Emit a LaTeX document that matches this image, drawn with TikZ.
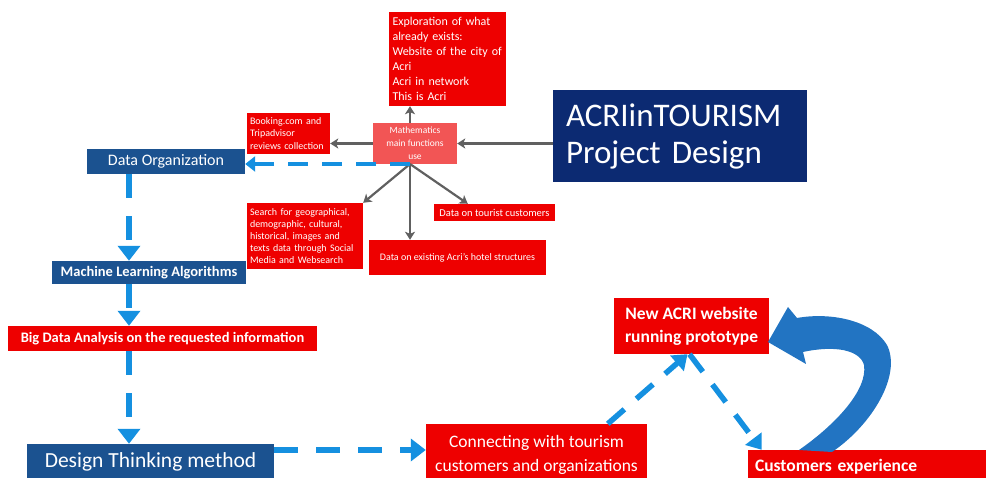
\documentclass[tikz,border=0pt]{standalone}
\usepackage{fontspec}
\setmainfont{Carlito}
\usetikzlibrary{arrows.meta,calc}

\definecolor{boxred}{HTML}{EE0000}
\definecolor{mathred}{HTML}{F25555}
\definecolor{navy}{HTML}{0C2A72}
\definecolor{midblue}{HTML}{1B5290}
\definecolor{flowblue}{HTML}{1590E0}
\definecolor{loopblue}{HTML}{2274C2}
\definecolor{linkgray}{HTML}{606060}

\begin{document}
\begin{tikzpicture}[x=1pt,y=-1pt,
  box/.style={inner sep=0pt,text=white,align=center},
  redbox/.style={box,fill=boxred},
  bluebox/.style={box,fill=midblue},
  graylink/.style={draw=linkgray,line width=2.2pt,-{Stealth[width=10pt,length=8pt,inset=2pt]}},
  flow/.style={draw=flowblue,line width=6pt,dash pattern=on 24pt off 18pt,-{Triangle[width=22pt,length=15pt]}},
  flowthin/.style={draw=flowblue,line width=4.5pt,dash pattern=on 20pt off 14pt,-{Triangle[width=15pt,length=10pt]}},
  flowdiag/.style={draw=flowblue,line width=5.5pt,dash pattern=on 22pt off 16pt,-{Triangle[width=20pt,length=14pt]}},
]
\useasboundingbox (0,0) rectangle (986,478);

% title block
\node[box,fill=navy,minimum width=254pt,minimum height=92pt,text width=228pt,align=left,
      font=\fontsize{33}{37}\selectfont] (acri) at (680,136) {ACRIinTOURISM\\Project Design};

% central hub and its satellites
\node[box,fill=mathred,minimum width=84pt,minimum height=41pt,font=\fontsize{9.5}{13}\selectfont]
  (math) at (415,143.5) {Mathematics\\main functions\\use};
\node[redbox,minimum width=117pt,minimum height=94pt,text width=110pt,align=left,font=\fontsize{12}{15}\selectfont]
  (explore) at (447.5,59) {Exploration of what\\already exists:\\Website of the city of\\Acri\\Acri in network\\This is Acri};
\node[redbox,minimum width=83pt,minimum height=41pt,text width=77pt,align=left,font=\fontsize{10}{12.5}\selectfont]
  (booking) at (288.5,133.5) {Booking.com and\\Tripadvisor\\reviews collection};
\node[redbox,minimum width=116pt,minimum height=66pt,text width=110pt,align=left,font=\fontsize{10}{12}\selectfont]
  (search) at (305,236) {Search for geographical,\\demographic, cultural,\\historical, images and\\texts data through Social\\Media and Websearch};
\node[redbox,minimum width=121pt,minimum height=17pt,font=\fontsize{10.5}{12}\selectfont]
  (tourist) at (494.5,212.5) {Data on tourist customers};
\node[redbox,minimum width=177pt,minimum height=35pt,font=\fontsize{10}{12}\selectfont]
  (hotel) at (457.5,257.5) {Data on existing Acri's hotel structures};

% left column
\node[bluebox,minimum width=158pt,minimum height=25pt,font=\fontsize{16}{18}\selectfont]
  (dataorg) at (166,161.5) {Data Organization};
\node[bluebox,minimum width=194pt,minimum height=23pt,font=\bfseries\fontsize{14.5}{16}\selectfont]
  (ml) at (149,272.5) {Machine Learning Algorithms};
\node[redbox,minimum width=309pt,minimum height=25pt,font=\bfseries\fontsize{14.5}{16}\selectfont]
  (bigdata) at (162.5,338.5) {Big Data Analysis on the requested information};
\node[bluebox,minimum width=247pt,minimum height=36pt,font=\fontsize{21.5}{24}\selectfont]
  (design) at (150.5,462) {Design Thinking method};

% bottom row
\node[redbox,minimum width=221pt,minimum height=62pt,font=\fontsize{17.5}{24}\selectfont]
  (connect) at (536.5,455) {Connecting with tourism\\customers and organizations};
\node[redbox,minimum width=155pt,minimum height=56pt,font=\bfseries\fontsize{17.5}{23}\selectfont]
  (newacri) at (691.5,326) {New ACRI website\\running prototype};
\node[redbox,minimum width=242pt,minimum height=34pt,text width=228pt,align=left,font=\bfseries\fontsize{17.5}{20}\selectfont]
  (custexp) at (869,467) {Customers experience};

% gray links from the hub
\coordinate (hub) at (410,164);
\draw[graylink] (acri.west |- math.east) -- (math.east);
\draw[graylink] (math.west) -- (math.west -| booking.east);
\draw[graylink] (hub |- math.north) -- (hub |- explore.south);
\draw[graylink] (hub) -- (search.north east);
\draw[graylink] (hub) -- (hub |- hotel.north);
\draw[graylink] (hub) -- ($(tourist.north west)+(34,0)$);

% blue process flow
\draw[flowthin] (hub) -- (hub -| dataorg.east);
\coordinate (col) at (129,0);
\draw[flow] (dataorg.south -| col) -- (ml.north -| col);
\draw[flow] (ml.south -| col) -- (bigdata.north -| col);
\draw[flow] (bigdata.south -| col) -- (design.north -| col);
\coordinate (lane) at (0,450);
\draw[flow] (design.east |- lane) -- (connect.west |- lane);
\draw[flowdiag] ($(connect.north west)+(182,0)$) -- ($(newacri.south)+(-4,0)$);
\draw[flowdiag] ($(newacri.south)+(-2,0)$) -- ($(custexp.north west)+(14,0)$);

% feedback loop arrow
\fill[loopblue] (832,452) .. controls (872,425) and (902,375) .. (887,345)
  .. controls (872,320) and (830,312) .. (797,318) -- (788,307) -- (768,342)
  -- (806,364) -- (803,352) .. controls (835,345) and (860,350) .. (864,365)
  .. controls (868,390) and (835,425) .. (799,450) -- cycle;
\end{tikzpicture}
\end{document}
